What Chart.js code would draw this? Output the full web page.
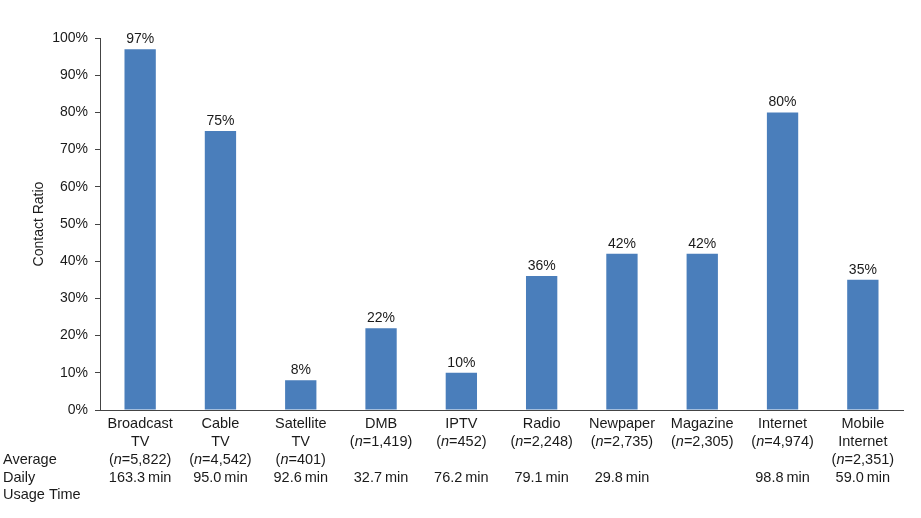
<!DOCTYPE html>
<html>
<head>
<meta charset="utf-8">
<script src="https://cdn.jsdelivr.net/npm/chart.js@4/dist/chart.umd.min.js"></script>
<style>
  html, body { margin: 0; padding: 0; background: #fff; }
  #wrap { width: 921px; height: 518px; }
</style>
</head>
<body>
<div id="wrap"><canvas id="c" width="921" height="518"></canvas></div>
<script>
// ---- data ----
const categories = ["Broadcast TV", "Cable TV", "Satellite TV", "DMB", "IPTV", "Radio", "Newpaper", "Magazine", "Internet", "Mobile Internet"];
const nameLines = [["Broadcast", "TV"], ["Cable", "TV"], ["Satellite", "TV"], ["DMB"], ["IPTV"], ["Radio"], ["Newpaper"], ["Magazine"], ["Internet"], ["Mobile", "Internet"]];
const sampleSizes = ["5,822", "4,542", "401", "1,419", "452", "2,248", "2,735", "2,305", "4,974", "2,351"];
const usageTime = ["163.3", "95.0", "92.6", "32.7", "76.2", "79.1", "29.8", null, "98.8", "59.0"];
const contactRatio = [97, 75, 8, 22, 10, 36, 42, 42, 80, 35];
const rowLabels = ["Average", "Daily", "Usage Time"];
const yTicks = [0, 10, 20, 30, 40, 50, 60, 70, 80, 90, 100];

const FONT = '"Liberation Sans", Arial, Helvetica, sans-serif';
const TEXT = '#1a1a1a';

const labelPlugin = {
  id: 'labels',
  afterDatasetsDraw(chart) {
    const ctx = chart.ctx;
    const meta = chart.getDatasetMeta(0);
    ctx.save();
    ctx.fillStyle = TEXT;
    ctx.font = '14px ' + FONT;
    ctx.textAlign = 'center';
    ctx.textBaseline = 'bottom';
    meta.data.forEach((bar, i) => {
      ctx.fillText(contactRatio[i] + '%', bar.x, bar.y - 3);
    });
    ctx.restore();
  },
  afterDraw(chart) {
    const ctx = chart.ctx;
    const xs = chart.scales.x;
    const rowY = [424, 442, 460, 477.5, 495];
    ctx.save();
    ctx.fillStyle = TEXT;
    ctx.textBaseline = 'middle';
    const normal = '14.5px ' + FONT;
    const italic = 'italic 14.5px ' + FONT;
    categories.forEach((c, i) => {
      const cx = xs.getPixelForValue(i);
      let r = 0;
      ctx.textAlign = 'center';
      ctx.font = normal;
      nameLines[i].forEach(l => { ctx.fillText(l, cx, rowY[r]); r++; });
      // (n=xxx) with italic n
      const parts = [['(', normal], ['n', italic], ['=' + sampleSizes[i] + ')', normal]];
      let total = 0;
      parts.forEach(p => { ctx.font = p[1]; total += ctx.measureText(p[0]).width; });
      let x = cx - total / 2;
      ctx.textAlign = 'left';
      parts.forEach(p => { ctx.font = p[1]; ctx.fillText(p[0], x, rowY[r]); x += ctx.measureText(p[0]).width; });
      if (usageTime[i] !== null) {
        ctx.font = normal;
        ctx.textAlign = 'center';
        ctx.fillText(usageTime[i] + '\u2009min', cx, rowY[3]);
      }
    });
    ctx.textAlign = 'left';
    ctx.font = normal;
    rowLabels.forEach((l, k) => ctx.fillText(l, 3, rowY[2 + k]));
    ctx.restore();
  }
};

new Chart(document.getElementById('c'), {
  type: 'bar',
  data: {
    labels: categories,
    datasets: [{
      data: contactRatio,
      backgroundColor: '#4a7ebb',
      borderWidth: 0,
      barPercentage: 0.78,
      categoryPercentage: 0.5
    }]
  },
  options: {
    responsive: false,
    animation: false,
    layout: { padding: { left: 0, right: 18, top: 38, bottom: 108 } },
    plugins: { legend: { display: false }, tooltip: { enabled: false } },
    scales: {
      x: {
        ticks: { display: false },
        grid: { display: false, drawTicks: false },
        border: { display: true, color: '#444', width: 1 }
      },
      y: {
        min: 0, max: 100,
        afterFit(scale) { scale.width = 100; },
        afterBuildTicks(scale) { scale.ticks = yTicks.map(v => ({ value: v })); },
        ticks: {
          callback: v => v + '%',
          font: { family: FONT, size: 14 },
          color: TEXT,
          padding: 7
        },
        grid: { drawOnChartArea: false, drawTicks: true, tickLength: 5, color: '#444' },
        border: { display: true, color: '#444', width: 1 },
        title: {
          display: true,
          text: 'Contact Ratio',
          font: { family: FONT, size: 14 },
          color: TEXT,
          padding: { top: 31, bottom: 0 }
        }
      }
    }
  },
  plugins: [labelPlugin]
});
</script>
</body>
</html>
